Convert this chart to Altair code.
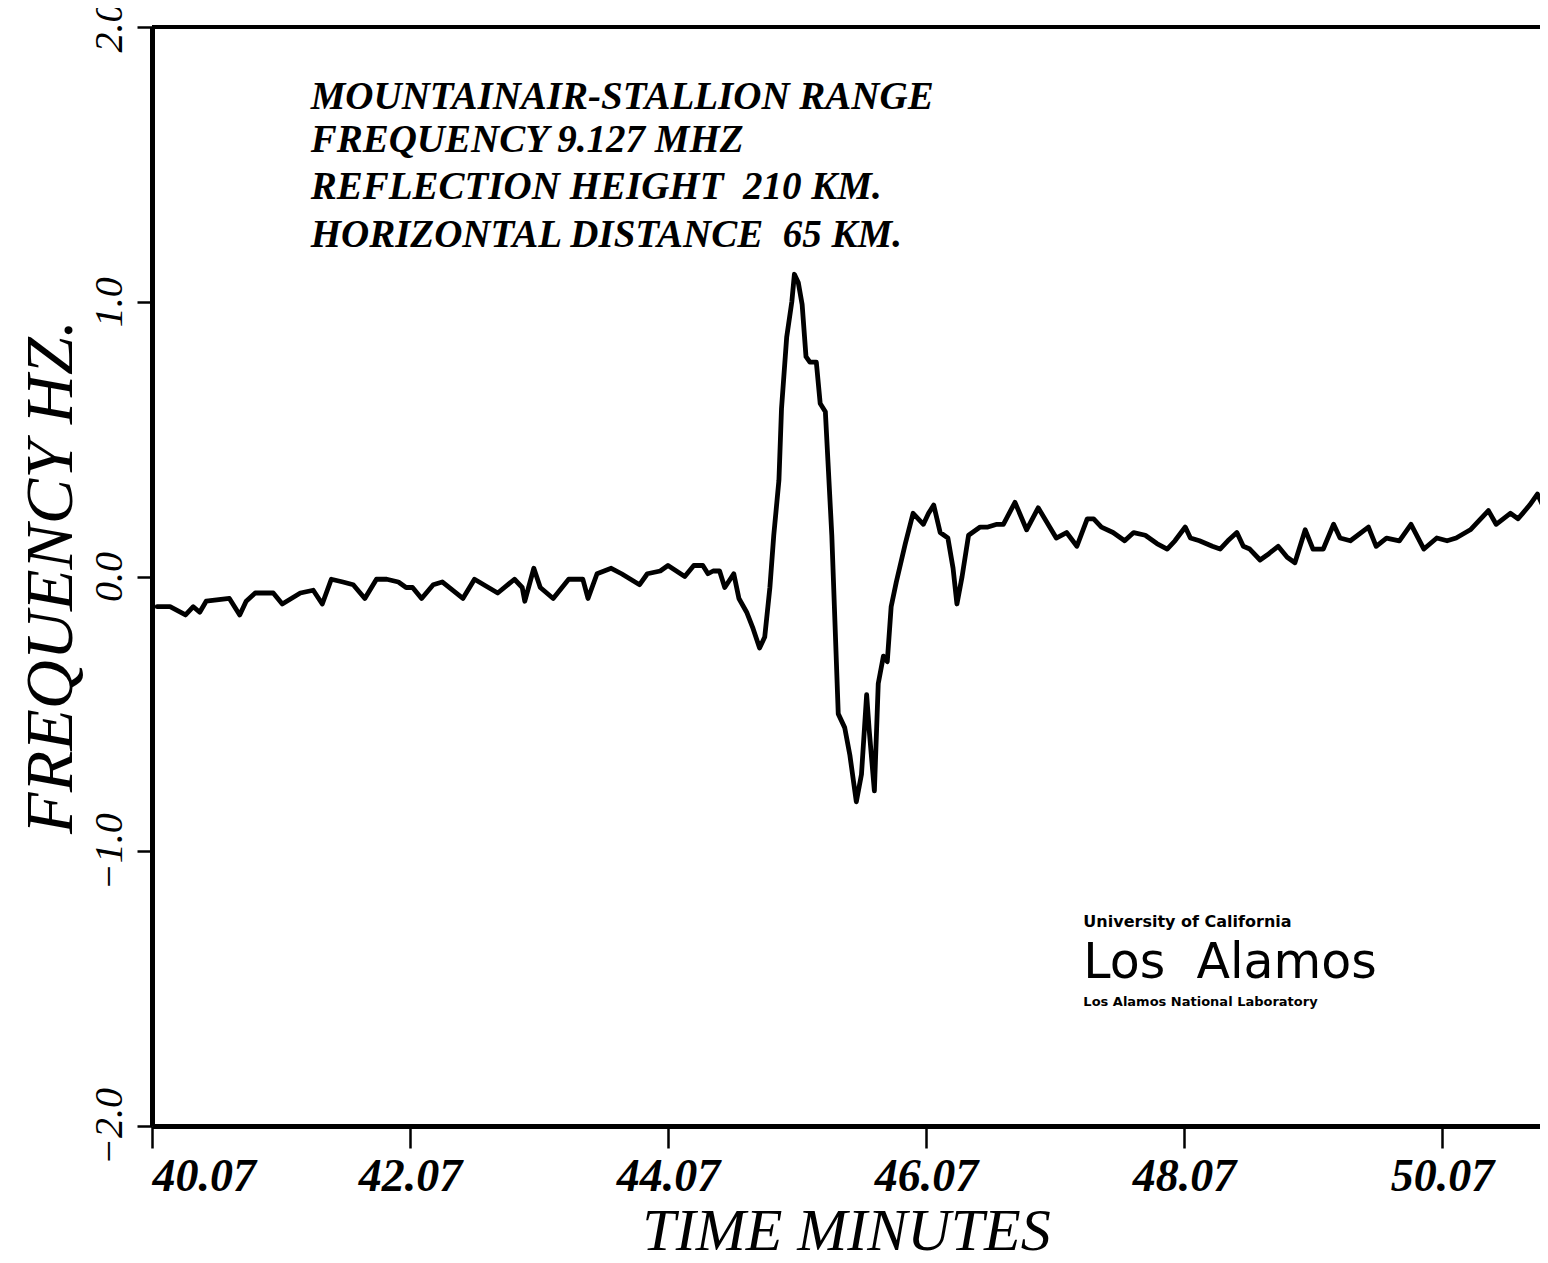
import altair as alt
import pandas as pd

# ---- data ----
time_min = [
    40.11, 40.21, 40.33, 40.39, 40.44, 40.49, 40.67, 40.75, 40.80, 40.87,
    41.01, 41.08, 41.22, 41.32, 41.39, 41.46, 41.55, 41.63, 41.72, 41.81,
    41.89, 41.98, 42.04, 42.09, 42.16, 42.25, 42.32, 42.48, 42.57, 42.75,
    42.88, 42.94, 42.96, 43.03, 43.08, 43.18, 43.30, 43.41, 43.45, 43.52,
    43.63, 43.71, 43.85, 43.91, 44.01, 44.07, 44.20, 44.27, 44.34, 44.38,
    44.42, 44.47, 44.51, 44.58, 44.62, 44.68, 44.73, 44.78, 44.82, 44.86,
    44.89, 44.93, 44.95, 44.99, 45.03, 45.05, 45.08, 45.11, 45.14, 45.17,
    45.22, 45.25, 45.29, 45.31, 45.34, 45.36, 45.39, 45.44, 45.48, 45.53,
    45.57, 45.61, 45.63, 45.67, 45.70, 45.74, 45.77, 45.80, 45.84, 45.91,
    45.97, 46.05, 46.09, 46.13, 46.18, 46.24, 46.28, 46.31, 46.35, 46.40,
    46.49, 46.55, 46.62, 46.67, 46.76, 46.85, 46.94, 47.08, 47.16, 47.24,
    47.32, 47.37, 47.43, 47.52, 47.61, 47.68, 47.77, 47.86, 47.94, 48.00,
    48.08, 48.12, 48.19, 48.29, 48.35, 48.41, 48.48, 48.53, 48.58, 48.66,
    48.72, 48.80, 48.87, 48.93, 49.01, 49.07, 49.15, 49.23, 49.28, 49.36,
    49.50, 49.56, 49.64, 49.74, 49.83, 49.93, 50.03, 50.11, 50.18, 50.29,
    50.43, 50.49, 50.60, 50.66, 50.75, 50.81, 50.86, 50.89,
]
freq_hz = [
    -0.11, -0.11, -0.14, -0.11, -0.13, -0.09, -0.08, -0.14, -0.09, -0.06,
    -0.06, -0.10, -0.06, -0.05, -0.10, -0.01, -0.02, -0.03, -0.08, -0.01,
    -0.01, -0.02, -0.04, -0.04, -0.08, -0.03, -0.02, -0.08, -0.01, -0.06,
    -0.01, -0.04, -0.09, 0.03, -0.04, -0.08, -0.01, -0.01, -0.08, 0.01,
    0.03, 0.01, -0.03, 0.01, 0.02, 0.04, 0.00, 0.04, 0.04, 0.01,
    0.02, 0.02, -0.04, 0.01, -0.08, -0.13, -0.19, -0.26, -0.22, -0.04,
    0.15, 0.35, 0.61, 0.87, 1.00, 1.10, 1.07, 0.99, 0.80, 0.78,
    0.78, 0.63, 0.60, 0.42, 0.15, -0.11, -0.50, -0.55, -0.65, -0.82,
    -0.72, -0.43, -0.56, -0.78, -0.39, -0.29, -0.31, -0.11, -0.02, 0.12,
    0.23, 0.19, 0.23, 0.26, 0.16, 0.14, 0.03, -0.10, 0.00, 0.15,
    0.18, 0.18, 0.19, 0.19, 0.27, 0.17, 0.25, 0.14, 0.16, 0.11,
    0.21, 0.21, 0.18, 0.16, 0.13, 0.16, 0.15, 0.12, 0.10, 0.13,
    0.18, 0.14, 0.13, 0.11, 0.10, 0.13, 0.16, 0.11, 0.10, 0.06,
    0.08, 0.11, 0.07, 0.05, 0.17, 0.10, 0.10, 0.19, 0.14, 0.13,
    0.18, 0.11, 0.14, 0.13, 0.19, 0.10, 0.14, 0.13, 0.14, 0.17,
    0.24, 0.19, 0.23, 0.21, 0.26, 0.30, 0.25, 0.24,
]
assert len(time_min) == len(freq_hz)

x_ticks = [40.07, 42.07, 44.07, 46.07, 48.07, 50.07]
y_ticks = [-2.0, -1.0, 0.0, 1.0, 2.0]
x_domain = [40.07, 50.83]
y_domain = [-2.0, 2.0]

note_lines = [
    "MOUNTAINAIR-STALLION RANGE",
    "FREQUENCY 9.127 MHZ",
    "REFLECTION HEIGHT\u00a0\u00a0210 KM.",
    "HORIZONTAL DISTANCE\u00a0\u00a065 KM.",
]
note_x = [41.30, 41.30, 41.30, 41.30]
note_y = [1.70, 1.545, 1.375, 1.20]

logo_lines = ["University of California", "Los\u00a0 Alamos", "Los Alamos National Laboratory"]
logo_x = 47.29
logo_y = [-1.275, -1.46, -1.565]

SERIF = "Liberation Serif"

df = pd.DataFrame({"time": time_min, "freq": freq_hz})
notes = pd.DataFrame({"line": note_lines, "x": note_x, "y": note_y})
one = pd.DataFrame({"k": [0]})

x_axis = alt.Axis(
    values=x_ticks, format=".2f", grid=False,
    domainColor="black", domainWidth=5, tickColor="black", tickWidth=2.5, tickSize=22,
    labelColor="black", labelFont=SERIF, labelFontStyle="italic", labelFontWeight="bold",
    labelFontSize=46, labelPadding=6, labelOverlap=False,
    title="TIME MINUTES", titleFont=SERIF, titleFontStyle="italic", titleFontWeight="normal",
    titleFontSize=60, titleColor="black", titlePadding=3,
)
y_axis = alt.Axis(
    values=y_ticks, format=".1f", grid=False,
    domainColor="black", domainWidth=5, tickColor="black", tickWidth=2.5, tickSize=15,
    labelColor="black", labelFont=SERIF, labelFontStyle="italic",
    labelFontSize=40, labelAngle=-90, labelPadding=8, labelOverlap=False,
    title="FREQUENCY HZ.", titleFont=SERIF, titleFontStyle="italic", titleFontWeight="normal",
    titleFontSize=68, titleColor="black", titlePadding=4,
)

line = alt.Chart(df).mark_line(
    color="black", strokeWidth=4.8, clip=True, strokeJoin="round", strokeCap="round"
).encode(
    x=alt.X("time:Q", scale=alt.Scale(domain=x_domain, nice=False, zero=False), axis=x_axis),
    y=alt.Y("freq:Q", scale=alt.Scale(domain=y_domain, nice=False, zero=False), axis=y_axis),
)

top_rule = alt.Chart(one).mark_rule(color="black", strokeWidth=4).encode(
    y=alt.datum(y_domain[1])
)

note_text = alt.Chart(notes).mark_text(
    align="left", baseline="alphabetic", font=SERIF, fontStyle="italic",
    fontWeight="bold", fontSize=39, color="black",
).encode(x="x:Q", y="y:Q", text="line:N")

logo1 = alt.Chart(one).mark_text(
    align="left", baseline="alphabetic", font="DejaVu Sans", fontWeight="bold",
    fontSize=16, color="black", text=logo_lines[0],
).encode(x=alt.datum(logo_x), y=alt.datum(logo_y[0]))
logo2 = alt.Chart(one).mark_text(
    align="left", baseline="alphabetic", font="DejaVu Sans",
    fontSize=49, color="black", text=logo_lines[1],
).encode(x=alt.datum(logo_x), y=alt.datum(logo_y[1]))
logo3 = alt.Chart(one).mark_text(
    align="left", baseline="alphabetic", font="DejaVu Sans", fontWeight="bold",
    fontSize=13, color="black", text=logo_lines[2],
).encode(x=alt.datum(logo_x), y=alt.datum(logo_y[2]))

chart = alt.layer(line, top_rule, note_text, logo1, logo2, logo3).properties(
    width=1388, height=1099,
    autosize=alt.AutoSizeParams(type="none"),
    padding={"left": 144, "top": 19, "right": 0, "bottom": 137},
    background="white",
).configure_view(stroke=None)

chart.save("out.html", embed_options={"renderer": "svg", "actions": False})
